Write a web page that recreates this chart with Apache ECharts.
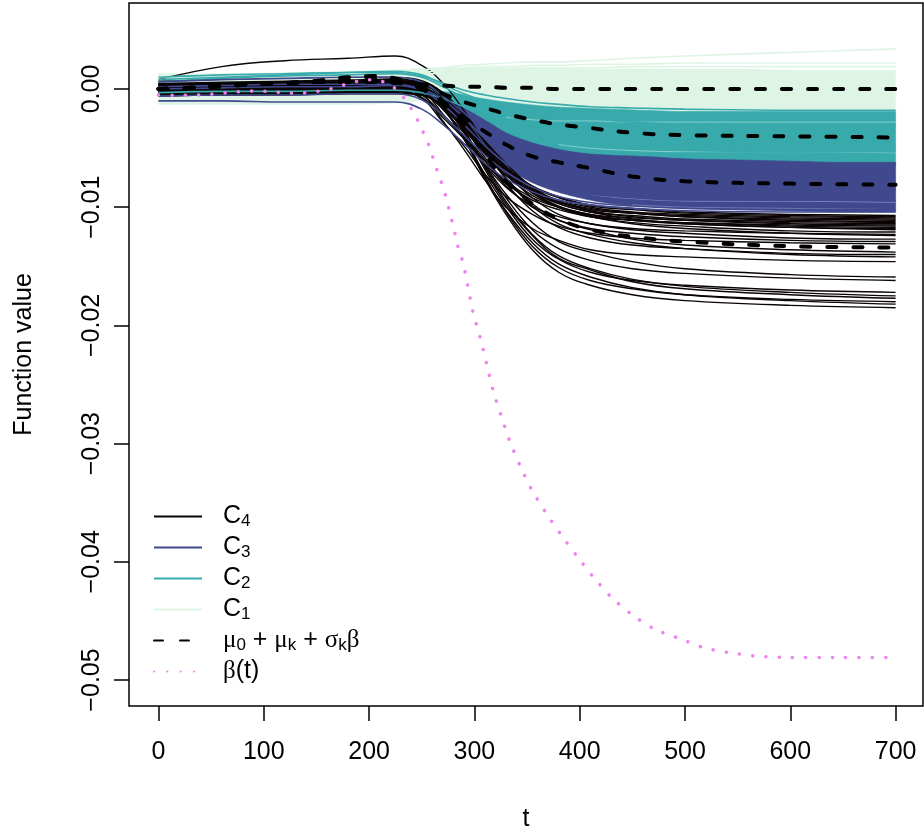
<!DOCTYPE html>
<html><head><meta charset="utf-8">
<script src="https://cdn.jsdelivr.net/npm/echarts@6/dist/echarts.min.js"></script>
<style>html,body{margin:0;padding:0;background:#fff}#c{width:924px;height:831px}</style>
</head><body><div id="c"></div>
<script>
// ---------- axis ticks ----------
const xTicks = [0, 100, 200, 300, 400, 500, 600, 700];
const yTicks = [0, -0.01, -0.02, -0.03, -0.04, -0.05];
// values below are in units of 1e-4
const UNIT = 1e-4;
// time grid for individual curves
const tCurve = [0, 60, 120, 180, 225, 250, 270, 290, 310, 330, 355, 380, 410, 450, 500, 600, 700];
// C4 (black) curves
const c4Curves = [
  [4,5,6,6,6,3,-11,-28,-48,-66,-82,-91,-98,-101,-104,-106,-107],
  [2,3,3,4,4,1,-13,-30,-50,-68,-83,-92,-99,-102,-105,-107,-108],
  [-2,-1,0,1,1,-2,-16,-32,-52,-69,-85,-94,-100,-104,-106,-108,-109],
  [6,7,8,9,9,3,-15,-34,-55,-73,-87,-96,-102,-105,-107,-109,-110],
  [0,1,1,2,2,-1,-15,-32,-52,-70,-86,-95,-102,-105,-108,-110,-111],
  [-5,-4,-4,-3,-3,-5,-14,-29,-49,-66,-84,-95,-101,-105,-108,-111,-112],
  [3,4,5,5,5,1,-13,-30,-52,-71,-87,-97,-104,-107,-110,-112,-113],
  [-1,0,0,1,1,-5,-22,-40,-61,-78,-92,-100,-106,-109,-111,-113,-114],
  [5,6,7,8,8,6,-4,-22,-44,-63,-83,-95,-103,-108,-111,-114,-115],
  [-3,-2,-2,-1,-1,-7,-24,-42,-63,-80,-94,-102,-108,-111,-113,-115,-116],
  [1,2,3,4,4,0,-14,-32,-54,-73,-90,-100,-107,-111,-113,-116,-117],
  [-6,-5,-5,-4,-4,-5,-13,-29,-50,-68,-86,-97,-104,-110,-114,-117,-119],
  [7,8,9,10,10,7,-3,-21,-45,-66,-87,-100,-108,-113,-116,-120,-121],
  [2,3,4,5,5,-1,-21,-41,-64,-83,-99,-108,-114,-118,-120,-122,-123],
  [-2,-2,-1,0,0,-1,-10,-27,-50,-69,-88,-100,-108,-114,-118,-122,-124],
  [4,5,6,7,7,4,-6,-25,-49,-71,-92,-106,-114,-119,-122,-126,-127],
  [0,1,2,3,3,-1,-17,-37,-60,-82,-100,-111,-118,-122,-125,-128,-129],
  [-4,-3,-3,-2,-2,-8,-28,-48,-72,-91,-106,-116,-122,-126,-128,-130,-131],
  [3,4,4,5,5,4,-6,-26,-52,-75,-97,-111,-119,-127,-132,-136,-138],
  [-1,0,1,2,2,-1,-12,-32,-58,-80,-103,-117,-126,-132,-135,-139,-140],
  [5,6,6,7,7,6,-5,-26,-53,-76,-99,-114,-123,-130,-135,-140,-142],
  [1,2,2,3,3,-4,-27,-51,-77,-100,-118,-128,-136,-140,-142,-145,-146],
  [-3,-2,-2,-1,-1,-3,-14,-36,-64,-89,-113,-129,-138,-146,-152,-157,-159],
  [2,3,4,5,5,2,-12,-35,-65,-92,-119,-135,-145,-152,-156,-160,-162],
  [-2,-1,0,1,1,-2,-16,-41,-72,-99,-127,-144,-155,-162,-166,-170,-172],
  [4,5,5,6,6,4,-8,-34,-66,-95,-123,-141,-152,-161,-167,-172,-175],
  [3,4,4,4,4,2,-10,-36,-68,-97,-124,-143,-153,-163,-169,-174,-177],
  [0,1,2,2,2,-2,-16,-42,-74,-104,-133,-151,-162,-169,-174,-178,-180],
  [-5,-4,-3,-3,-3,-5,-17,-42,-75,-103,-130,-148,-159,-168,-174,-179,-182],
  [1,1,2,3,3,-1,-16,-42,-76,-106,-136,-155,-166,-174,-179,-183,-185],
  [8,19,24,26,28,20,5,-18,-45,-67,-87,-99,-106,-111,-114,-117,-118]
];
// C3 (navy) individual curves
const c3Curves = [
  [6,8,9,10,10,6,-6,-20,-36,-50,-63,-72,-78,-82,-84,-85,-85],
  [0,1,2,2,3,-1,-13,-30,-48,-63,-76,-84,-90,-94,-96,-97,-97],
  [-6,-5,-5,-4,-4,-9,-22,-39,-56,-70,-83,-91,-96,-99,-101,-102,-102],
  [-10,-10,-11,-11,-11,-17,-30,-46,-63,-76,-87,-94,-98,-101,-103,-104,-104],
  [2,3,4,4,4,0,-9,-24,-42,-58,-72,-81,-87,-91,-93,-94,-94]
];
// C2 (teal) individual curves
const c2Curves = [
  [8,10,12,14,15,12,4,-4,-10,-14,-18,-22,-25,-28,-30,-31,-31],
  [6,9,11,12,13,10,2,-7,-15,-22,-30,-36,-40,-44,-46,-48,-48],
  [-3,-2,-2,-1,-1,-3,-8,-15,-22,-29,-37,-43,-47,-50,-52,-53,-53],
  [10,12,13,14,14,11,5,-1,-5,-8,-11,-13,-15,-16,-17,-18,-18]
];
// C1 (mint) individual curves
const c1Curves = [
  [10,11,12,13,14,16,18,20,21,22,23,23,24,26,28,31,34],
  [8,9,10,11,12,14,16,18,19,19,20,20,21,21,22,22,22],
  [6,7,8,9,10,12,14,16,17,17,18,18,18,19,19,19,19]
];
// dense bundles: envelopes
const tBand = [0, 60, 120, 180, 220, 240, 255, 270, 285, 300, 315, 330, 350, 375, 400, 430, 460, 500, 550, 600, 650, 700];
const c1Upper = [13,13,14,15,16,17,18,18,18,18,18,18,18,18,17,17,17,17,17,16,16,16];
const c1Lower = [-13,-13,-13,-13,-12,-11,-8,-6,-8,-10,-12,-14,-16,-18,-19,-20,-21,-22,-22,-22,-22,-22];
const c2Upper = [-1,-1,-1,-1,-1,-1,-1,-2,-4,-7,-9,-11,-13,-15,-16,-17,-18,-19,-19,-19,-19,-19];
const c2Lower = [-1,-1,-1,-1,-1,-3,-6,-11,-17,-24,-32,-40,-47,-53,-57,-59,-60,-62,-63,-64,-65,-65];
const c3Upper = [-1,-1,-1,-1,-1,-2,-3,-8,-14,-21,-29,-37,-44,-50,-54,-56,-57,-59,-60,-61,-62,-62];
const c3Lower = [-1,-1,-1,-1,-1,-2,-5,-15,-28,-41,-54,-66,-77,-86,-92,-97,-99,-101,-102,-103,-104,-104];
// light streaks inside bundles  [t, value]
const tealStreaks = [
  [[330,-24],[355,-26],[380,-27],[410,-27],[450,-28],[500,-28],[600,-28],[700,-28]],
  [[380,-47],[410,-50],[450,-52],[500,-53],[600,-53],[700,-54]]
];
const navyStreaks = [
  [[410,-90],[450,-93],[500,-95],[600,-95],[700,-96]],
  [[450,-98],[500,-100],[600,-101],[700,-102]]
];
// group means mu0 + mu_k + sigma_k beta
const tMean = [0, 30, 60, 90, 120, 150, 180, 205, 230, 250, 270, 290, 310, 330, 355, 380, 410, 450, 500, 600, 700];
const mean1 = [0,1,3,4,5,6,6,6,5,4,3,2,2,1,1,0,0,0,0,0,0];
const mean2 = [0,1,3,4,5,7,10,11,8,3,-4,-11,-16,-21,-26,-30,-33,-37,-39,-40,-41];
const mean3 = [0,1,2,4,5,6,7,7,6,0,-13,-24,-36,-47,-57,-62,-67,-74,-78,-80,-81];
const mean4 = [0,1,3,4,5,6,7,8,5,0,-10,-30,-55,-78,-97,-110,-119,-125,-129,-133,-134];
// beta(t)
const betaT = [0,14,27,39,52,65,77,90,103,115,128,141,153,166,178,190,203,215,226,234,241,247,252,257,261,265,269,273,276,279,282,285,289,294,299,306,312,318,326,334,344,355,369,383,398,414,430,450,471,495,519,543,570,600,650,700];
const betaV = [-5,-5.3,-5.3,-5.1,-4.2,-3.1,-2.3,-1.7,-2,-2.8,-3.4,-3.1,-1.7,0.6,4,6.8,7.9,5.7,-0.3,-8.5,-18,-28,-38,-48,-59,-70,-80,-91,-102,-113,-124,-136,-146,-168,-190,-212,-234,-256,-278,-299,-320,-340,-360,-378,-396,-414,-430,-445,-457,-465,-473,-477,-480,-481,-481,-481];

// ---------- styling ----------
const SANS = "'Liberation Sans', Arial, sans-serif";
const SERIF = "'Liberation Serif', 'Times New Roman', serif";
const COL = { c4: '#0b0405', c3: '#40498e', c2: '#38aaac', c1: '#def5e5', beta: '#ee82ee' };

function pts(ts, vals) { return ts.map((t, i) => [t, vals[i] * UNIT]); }
function lineS(name, data, color, width, extra) {
  return Object.assign({
    type: 'line', name: name, data: data, symbol: 'none', smooth: 0.4, silent: true,
    lineStyle: { color: color, width: width }, itemStyle: { color: color }
  }, extra || {});
}
// monotone cubic (x-monotone) tangents in pixel space, used only to draw smooth band edges
function tangents(P) {
  const n = P.length, T = new Array(n), s = [], h = [];
  for (let i = 0; i < n - 1; i++) { h[i] = P[i + 1][0] - P[i][0]; s[i] = (P[i + 1][1] - P[i][1]) / h[i]; }
  for (let i = 1; i < n - 1; i++) {
    const p = (s[i - 1] * h[i] + s[i] * h[i - 1]) / (h[i - 1] + h[i]);
    T[i] = (Math.sign(s[i - 1]) + Math.sign(s[i])) * Math.min(Math.abs(s[i - 1]), Math.abs(s[i]), 0.5 * Math.abs(p)) || 0;
  }
  T[0] = (3 * s[0] - T[1]) / 2; T[n - 1] = (3 * s[n - 2] - T[n - 2]) / 2;
  return T;
}
function edge(P) {
  const T = tangents(P), out = [P[0]], m = 10;
  for (let i = 0; i < P.length - 1; i++) {
    const h = P[i + 1][0] - P[i][0];
    for (let k = 1; k <= m; k++) {
      const u = k / m, u2 = u * u, u3 = u2 * u;
      const y = (2 * u3 - 3 * u2 + 1) * P[i][1] + (u3 - 2 * u2 + u) * h * T[i] +
                (-2 * u3 + 3 * u2) * P[i + 1][1] + (u3 - u2) * h * T[i + 1];
      out.push([P[i][0] + u * h, y]);
    }
  }
  return out;
}
function band(name, up, lo, color) {
  return {
    type: 'custom', name: name, silent: true, clip: true,
    data: tBand.map((t, i) => [t, up[i] * UNIT, lo[i] * UNIT]),
    encode: { x: 0, y: [1, 2] },
    renderItem: function (params, api) {
      if (params.dataIndex !== 0) return null;
      const U = tBand.map((t, i) => api.coord([t, up[i] * UNIT]));
      const L = tBand.map((t, i) => api.coord([t, lo[i] * UNIT]));
      const points = edge(U).concat(edge(L).reverse());
      return { type: 'polygon', shape: { points: points }, style: { fill: color, stroke: color, lineWidth: 0.6 } };
    }
  };
}

const series = [];
c4Curves.forEach(c => series.push(lineS('C4', pts(tCurve, c), COL.c4, 1.4)));
series.push(band('B1', c1Upper, c1Lower, COL.c1));
series.push(band('B2', c2Upper, c2Lower, COL.c2));
series.push(band('B3', c3Upper, c3Lower, COL.c3));
tealStreaks.forEach(s => series.push(lineS('ts', s.map(p => [p[0], p[1] * UNIT]), 'rgba(200,240,235,0.55)', 1)));
navyStreaks.forEach(s => series.push(lineS('ns', s.map(p => [p[0], p[1] * UNIT]), 'rgba(170,175,225,0.55)', 1)));
c1Curves.forEach(c => series.push(lineS('C1', pts(tCurve, c), COL.c1, 1.6)));
c2Curves.forEach(c => series.push(lineS('C2', pts(tCurve, c), COL.c2, 1.6)));
c3Curves.forEach(c => series.push(lineS('C3', pts(tCurve, c), COL.c3, 1.6)));
[mean1, mean2, mean3, mean4].forEach(m => series.push(lineS('mu', pts(tMean, m), '#000', 4,
  { lineStyle: { color: '#000', width: 4, type: [9, 17], cap: 'round' } })));
series.push(lineS('beta', pts(betaT, betaV), COL.beta, 3.5,
  { smooth: 0.2, lineStyle: { color: COL.beta, width: 3.5, type: [0.1, 13.2], cap: 'round' } }));

const legendText = {
  C4: '{p| }{m|C}{s|4}', C3: '{p| }{m|C}{s|3}', C2: '{p| }{m|C}{s|2}', C1: '{p| }{m|C}{s|1}',
  mu: '{p| }{g|\u03bc}{s|0}{m| + }{g|\u03bc}{s|k}{m| + }{g|\u03c3}{s|k}{g|\u03b2}',
  beta: '{p| }{g|\u03b2}{m|(t)}'
};

const chart = echarts.init(document.getElementById('c'), null, { renderer: 'canvas' });
chart.setOption({
  animation: false,
  backgroundColor: '#fff',
  grid: { left: 129, top: 3, width: 794, height: 703, show: true, borderColor: '#000', borderWidth: 1.5,
          backgroundColor: 'transparent', containLabel: false, outerBoundsMode: 'none' },
  xAxis: {
    type: 'value', min: -28, max: 726,
    axisLine: { show: false, onZero: false }, splitLine: { show: false },
    axisTick: { show: true, inside: false, length: 15, customValues: xTicks, lineStyle: { color: '#000', width: 1.5 } },
    axisLabel: { customValues: xTicks, fontSize: 25, fontFamily: SANS, color: '#000', margin: 34 },
    name: 't', nameLocation: 'middle', nameGap: 101,
    nameTextStyle: { fontSize: 25, fontFamily: SANS, color: '#000' }
  },
  yAxis: {
    type: 'value', min: -0.0522, max: 0.00728,
    axisLine: { show: false, onZero: false }, splitLine: { show: false },
    axisTick: { show: true, inside: false, length: 15, customValues: yTicks, lineStyle: { color: '#000', width: 1.5 } },
    axisLabel: { customValues: yTicks, rotate: 90, fontSize: 25, fontFamily: SANS, color: '#000', margin: 24,
      formatter: v => Math.abs(v) < 1e-9 ? '0.00' : '\u2212' + Math.abs(v).toFixed(2) },
    name: 'Function value', nameLocation: 'middle', nameGap: 92, nameRotate: 90,
    nameTextStyle: { fontSize: 25, fontFamily: SANS, color: '#000' }
  },
  legend: {
    orient: 'vertical', left: 153, top: 504, padding: 0, itemWidth: 48, itemHeight: 26, itemGap: 5.5,
    selectedMode: false,
    itemStyle: { color: 'rgba(0,0,0,0)', borderColor: 'rgba(0,0,0,0)', borderWidth: 0 },
    data: ['C4', 'C3', 'C2', 'C1', 'mu', 'beta'],
    formatter: name => legendText[name],
    textStyle: {
      color: '#000', fontSize: 25, fontFamily: SANS,
      rich: {
        p: { width: 16, fontSize: 25, lineHeight: 26 },
        m: { fontSize: 25, fontFamily: SANS, lineHeight: 26, color: '#000' },
        g: { fontSize: 25, fontFamily: SERIF, lineHeight: 26, color: '#000' },
        s: { fontSize: 17, fontFamily: SANS, lineHeight: 8, verticalAlign: 'bottom', color: '#000' }
      }
    }
  },
  series: series
});
</script>
</body></html>
